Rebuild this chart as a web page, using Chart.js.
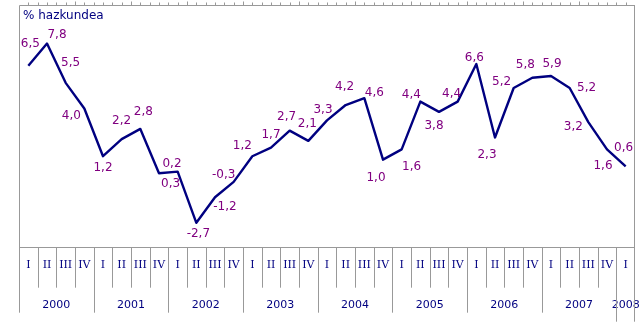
<!DOCTYPE html>
<html>
<head>
<meta charset="utf-8">
<script src="https://cdn.jsdelivr.net/npm/chart.js@4/dist/chart.umd.min.js"></script>
<style>
  html, body { margin: 0; padding: 0; background: #ffffff; }
  canvas { display: block; }
</style>
</head>
<body>
<canvas id="chart" width="643" height="330"></canvas>
<script>
// Quarterly growth rate, % (2000 I .. 2008 I)
const years = ['2000', '2001', '2002', '2003', '2004', '2005', '2006', '2007', '2008'];
const quarters = ['I', 'II', 'III', 'IV'];
const growth = [
  6.5, 7.8, 5.5, 4.0,
  1.2, 2.2, 2.8, 0.2,
  0.3, -2.7, -1.2, -0.3,
  1.2, 1.7, 2.7, 2.1,
  3.3, 4.2, 4.6, 1.0,
  1.6, 4.4, 3.8, 4.4,
  6.6, 2.3, 5.2, 5.8,
  5.9, 5.2, 3.2, 1.6,
  0.6
];
const axisTitle = '% hazkundea';

// Where each value label sits relative to its point (dx, dy in px)
const labelNudge = [
  [2, -22], [10, -9], [5, -20], [-13, 7],
  [0, 12], [0, -18], [3, -17], [13, -9],
  [-7, 12], [2, 11], [10, 10], [-10, -7],
  [-10, -10], [0, -13], [-3, -14], [-1, -17],
  [-4, -11], [-1, -18], [10, -5], [-7, 18],
  [10, 17], [-9, -7], [-5, 14], [-6, -8],
  [-2, -6], [-8, 17], [-12, -6], [-7, -13],
  [1, -12], [17, 0], [-15, 5], [-4, 16],
  [-2, -19]
];

// One category per quarter, e.g. "2000 I"
const periods = [];
years.forEach(y => quarters.forEach(q => periods.push(y + ' ' + q)));
const labels = periods.slice(0, growth.length);

const NAVY = '#000080';
const PURPLE = '#800080';
const GRID = '#999999';

const fmt = v => v.toFixed(1).replace('.', ',');

const framePlugin = {
  id: 'frameAndAxis',
  beforeDatasetsDraw(chart) {
    const ctx = chart.ctx;
    const area = chart.chartArea;
    const xs = chart.scales.x;
    const n = labels.length;
    const cell = (xs.getPixelForValue(1) - xs.getPixelForValue(0));
    const L = Math.round(area.left) + 0.5;
    const R = Math.round(area.right) - 0.5;
    const T = Math.round(area.top) + 0.5;
    const B = Math.round(area.bottom) + 0.5;
    const quarterRowBottom = area.bottom + 41;
    const yearRowBottom = area.bottom + 66;
    const lastRowBottom = area.bottom + 75;

    ctx.save();

    // Quarter and year labels underneath the plot
    ctx.fillStyle = NAVY;
    ctx.textAlign = 'center';
    ctx.textBaseline = 'middle';
    ctx.font = '11px "DejaVu Serif"';
    for (let i = 0; i < n; i++) {
      ctx.fillText(quarters[i % 4], xs.getPixelForValue(i), area.bottom + 18);
    }
    ctx.font = '11px "DejaVu Sans"';
    for (let y = 0; y * 4 < n; y++) {
      const first = y * 4;
      const last = Math.min(first + 3, n - 1);
      const cx = (xs.getPixelForValue(first) + xs.getPixelForValue(last)) / 2;
      ctx.fillText(years[y], cx, area.bottom + 58);
    }

    ctx.strokeStyle = GRID;
    ctx.lineWidth = 1;
    ctx.beginPath();
    // plot frame
    ctx.moveTo(L, T); ctx.lineTo(R + 0.5, T);
    ctx.moveTo(L, T); ctx.lineTo(L, yearRowBottom);
    ctx.moveTo(R, T); ctx.lineTo(R, lastRowBottom);
    ctx.moveTo(L, B); ctx.lineTo(R, B);
    // small ticks along the top edge, every half quarter
    for (let k = 1; k < n * 2; k++) {
      const tx = Math.round(area.left + k * cell / 2) + 0.5;
      const len = (k % 6 === 0) ? 4 : 3;
      ctx.moveTo(tx, T - len); ctx.lineTo(tx, T);
    }
    // separators between quarters and between years
    for (let i = 1; i < n; i++) {
      const sx = Math.round(xs.getPixelForValue(i) - cell / 2) + 0.5;
      let bottom = quarterRowBottom;
      if (i % 4 === 0) bottom = (i === n - 1) ? lastRowBottom : yearRowBottom;
      ctx.moveTo(sx, B); ctx.lineTo(sx, bottom);
    }
    ctx.stroke();

    // axis title
    ctx.fillStyle = NAVY;
    ctx.font = '12px "DejaVu Sans"';
    ctx.textAlign = 'left';
    ctx.fillText(axisTitle, area.left + 4, area.top + 11);
    ctx.restore();
  },
  afterDatasetsDraw(chart) {
    const ctx = chart.ctx;
    const meta = chart.getDatasetMeta(0);
    ctx.save();
    ctx.fillStyle = PURPLE;
    ctx.font = '12px "DejaVu Sans"';
    ctx.textAlign = 'center';
    ctx.textBaseline = 'middle';
    meta.data.forEach((pt, i) => {
      const [dx, dy] = labelNudge[i] || [0, -12];
      ctx.fillText(fmt(growth[i]), pt.x + dx, pt.y + dy);
    });
    ctx.restore();
  }
};

new Chart(document.getElementById('chart'), {
  type: 'line',
  data: {
    labels: labels,
    datasets: [{
      data: growth,
      borderColor: NAVY,
      borderWidth: 2.4,
      pointRadius: 0,
      tension: 0,
      fill: false,
      borderJoinStyle: 'round'
    }]
  },
  options: {
    responsive: false,
    devicePixelRatio: 1,
    animation: false,
    layout: { padding: { left: 19, right: 8, top: 5, bottom: 83.3 } },
    scales: {
      x: { type: 'category', offset: true, display: false },
      y: { display: false, min: -4.1, max: 10.06 }
    },
    plugins: {
      legend: { display: false },
      tooltip: { enabled: false },
      title: { display: false }
    }
  },
  plugins: [framePlugin]
});
</script>
</body>
</html>
